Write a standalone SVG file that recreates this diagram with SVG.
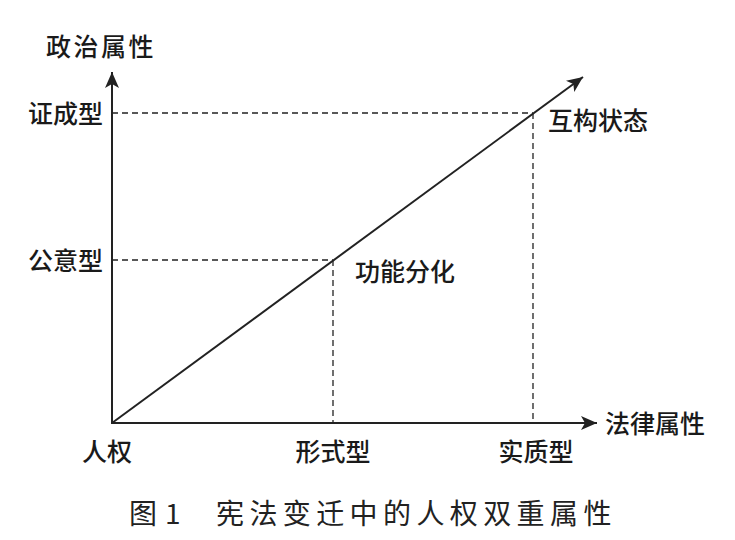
<svg xmlns="http://www.w3.org/2000/svg" width="735" height="540" viewBox="0 0 735 540">
<style>
.lbl{font-family:"Noto Sans CJK SC","Noto Sans",sans-serif;font-size:25px;fill:#1a1a1a;font-weight:500}
.cap{font-family:"Noto Sans CJK SC","Liberation Serif",serif;font-size:28px;fill:#222;font-weight:400}
.axis{stroke:#222;stroke-width:2;fill:none}
.dash{stroke:#222;stroke-width:1.3;stroke-dasharray:6 4;fill:none}
</style>
<defs>
<marker id="arr" markerUnits="userSpaceOnUse" markerWidth="18" markerHeight="16" refX="16" refY="7" orient="auto">
<path d="M0,0 L16,7 L0,14 L4,7 z" fill="#222"/>
</marker>
</defs>
<rect width="735" height="540" fill="#fff"/>
<g id="connectors">
<line class="dash" x1="112" y1="113" x2="533" y2="113"/>
<line class="dash" x1="533" y1="113" x2="533" y2="423"/>
<line class="dash" x1="112" y1="260" x2="333" y2="260"/>
<line class="dash" x1="333" y1="260" x2="333" y2="423"/>
<line class="axis" x1="112" y1="424" x2="112" y2="72" marker-end="url(#arr)"/>
<line class="axis" x1="111" y1="423" x2="597" y2="423" marker-end="url(#arr)"/>
<line class="axis" x1="112" y1="423" x2="583" y2="77" stroke-width="1.8" marker-end="url(#arr)"/>
</g>
<g id="y-title"><text class="lbl" x="46" y="56" font-size="26" letter-spacing="2.5">政治属性</text></g>
<g id="y-label-1"><text class="lbl" x="103" y="123" text-anchor="end">证成型</text></g>
<g id="y-label-2"><text class="lbl" x="103" y="270" text-anchor="end">公意型</text></g>
<g id="point-1"><text class="lbl" x="355" y="281">功能分化</text></g>
<g id="point-2"><text class="lbl" x="548" y="130">互构状态</text></g>
<g id="x-title"><text class="lbl" x="605" y="433">法律属性</text></g>
<g id="origin"><text class="lbl" x="107" y="461" text-anchor="middle">人权</text></g>
<g id="x-label-1"><text class="lbl" x="333" y="461" text-anchor="middle">形式型</text></g>
<g id="x-label-2"><text class="lbl" x="536" y="461" text-anchor="middle">实质型</text></g>
<g id="caption">
<text class="cap" x="129" y="524">图</text>
<text class="cap" x="165" y="524" font-family="Liberation Serif, serif">1</text>
<text class="cap" x="216" y="524" letter-spacing="5.4">宪法变迁中的人权双重属性</text>
</g>
</svg>
